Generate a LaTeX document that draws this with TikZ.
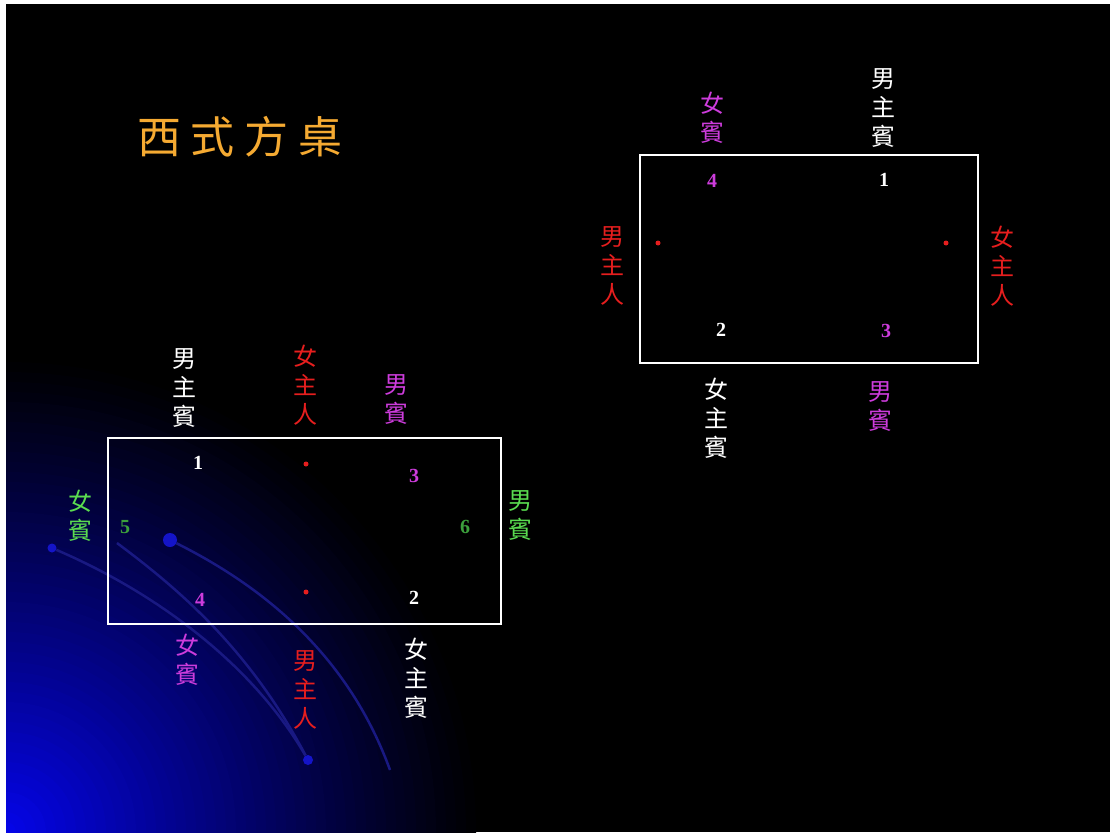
\documentclass[tikz,border=0pt]{standalone}
\usepackage{fontspec}
\newfontfamily\cjk{Noto Sans CJK TC}
\newfontfamily\numfont{Liberation Serif}
\definecolor{mag}{RGB}{205,60,220}
\definecolor{redc}{RGB}{230,30,30}
\definecolor{grn}{RGB}{90,220,80}
\definecolor{grnd}{RGB}{60,160,60}
\definecolor{gold}{RGB}{245,170,50}
\definecolor{arcblue}{RGB}{25,25,130}
\definecolor{dotblue}{RGB}{20,20,200}
\definecolor{cornerblue}{RGB}{5,5,235}
\tikzset{
  vlab/.style={align=center,inner sep=0pt,font=\cjk\fontsize{24}{29}\selectfont},
  num/.style={inner sep=0pt,font=\numfont\bfseries\fontsize{20}{20}\selectfont},
  seatdot/.style={circle,fill=redc,inner sep=0pt,minimum size=5pt},
  tablebox/.style={draw=white,line width=2.5pt},
  arcline/.style={draw=arcblue,line width=2.5pt},
  bluedot/.style={circle,fill=dotblue,inner sep=0pt}
}
\begin{document}
\begin{tikzpicture}[x=1pt,y=-1pt]
\useasboundingbox (0,0) rectangle (1110,832);
\fill[white] (0,0) rectangle (1110,832);
\fill[black] (6,4) rectangle (1110,832);
\begin{scope}
\clip (6,4) rectangle (1110,832);
\foreach \i in {0,...,46} {
  \pgfmathsetmacro{\rr}{470-10*\i}
  \pgfmathsetmacro{\pp}{100*(1-\rr/480)^1.1}
  \fill[cornerblue!\pp!black] (6,832) circle (\rr);
}
\end{scope}
% decorative arcs
\node[bluedot,minimum size=9pt] (da) at (52,548) {};
\node[bluedot,minimum size=14pt] (db) at (170,540) {};
\node[bluedot,minimum size=10pt] (dc) at (308,760) {};
\coordinate (ea) at (117,543);
\coordinate (eb) at (390,770);
\draw[arcline] (da) .. controls (150,590) and (250,660) .. (dc);
\draw[arcline] (ea) .. controls (180,590) and (250,650) .. (dc);
\draw[arcline] (db) .. controls (270,590) and (350,660) .. (eb);
% title
\node[inner sep=0pt,text=gold,font=\cjk\fontsize{44}{44}\selectfont] (title) at (240,137) {西\hspace{10pt}式\hspace{10pt}方\hspace{10pt}桌};
% right table
\node[tablebox,minimum width=338pt,minimum height=208pt,inner sep=0pt] (rtab) at (809,259) {};
\node[vlab,text=white] (rmzb) at (883,108) {男\\主\\賓};
\node[vlab,text=mag] (rnb) at (712,118) {女\\賓};
\node[num,text=mag] (r4) at (712,181) {4};
\node[num,text=white] (r1) at (884,180) {1};
\node[seatdot] (rdl) at (658,243) {};
\node[seatdot] (rdr) at (946,243) {};
\node[vlab,text=redc] (rmzr) at (612,266) {男\\主\\人};
\node[vlab,text=redc] (rnzr) at (1002,266) {女\\主\\人};
\node[num,text=white] (r2) at (721,330) {2};
\node[num,text=mag] (r3) at (886,331) {3};
\node[vlab,text=white] (rnzb) at (716,418) {女\\主\\賓};
\node[vlab,text=mag] (rmb) at (880,407) {男\\賓};
% left table
\node[tablebox,minimum width=393pt,minimum height=186pt,inner sep=0pt] (ltab) at (304.5,531) {};
\node[vlab,text=white] (lmzb) at (184,388) {男\\主\\賓};
\node[vlab,text=redc] (lnzr) at (305,385) {女\\主\\人};
\node[vlab,text=mag] (lmb) at (396,400) {男\\賓};
\node[num,text=white] (l1) at (198,463) {1};
\node[seatdot] (ld1) at (306,464) {};
\node[num,text=mag] (l3) at (414,476) {3};
\node[vlab,text=grn] (lnb) at (80,516) {女\\賓};
\node[num,text=grnd] (l5) at (125,527) {5};
\node[num,text=grnd] (l6) at (465,527) {6};
\node[vlab,text=grn] (lmb2) at (520,516) {男\\賓};
\node[num,text=mag] (l4) at (200,600) {4};
\node[seatdot] (ld2) at (306,592) {};
\node[num,text=white] (l2) at (414,598) {2};
\node[vlab,text=mag] (lnb2) at (187,660) {女\\賓};
\node[vlab,text=redc] (lmzr) at (305,690) {男\\主\\人};
\node[vlab,text=white] (lnzb) at (416,678) {女\\主\\賓};
\end{tikzpicture}
\end{document}
